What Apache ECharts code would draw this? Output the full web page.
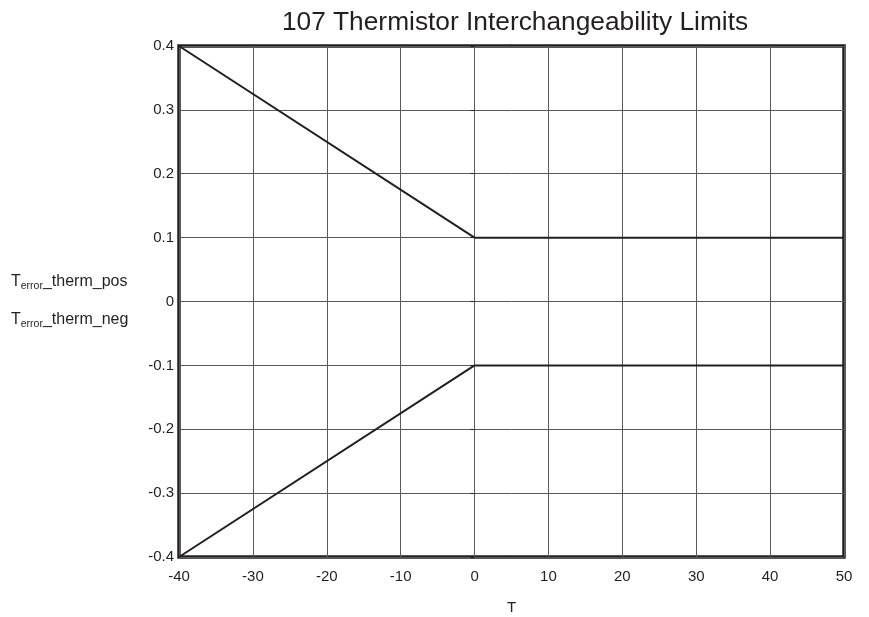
<!DOCTYPE html>
<html>
<head>
<meta charset="utf-8">
<script src="https://cdn.jsdelivr.net/npm/echarts@6/dist/echarts.min.js"></script>
<style>
  html, body { margin: 0; padding: 0; background: #fff; }
  #main { width: 869px; height: 617px; }
</style>
</head>
<body>
<div id="main"></div>
<script>
// data
var tempC = [-40, 0, 50]
var errPos = [0.4, 0.1, 0.1]
var errNeg = [-0.4, -0.1, -0.1]

var chart = echarts.init(document.getElementById('main'))
var font = 'Liberation Sans, Arial, sans-serif'

function pairs (xs, ys) {
  return xs.map(function (x, i) { return [x, ys[i]] })
}

var rich = {
  a: { fontFamily: font, fontSize: 16, fill: '#231f20' },
  b: { fontFamily: font, fontSize: 10.5, fill: '#231f20', padding: [9, 0, 0, 0] }
}

var option = {
  animation: false,
  title: {
    text: '107 Thermistor Interchangeability Limits',
    left: 510,
    top: 5,
    textAlign: 'center',
    textStyle: { fontFamily: font, fontSize: 26.3, fontWeight: 'normal', color: '#231f20' }
  },
  grid: {
    left: 179, right: 25, top: 46, bottom: 60,
    outerBoundsMode: 'none',
    show: true,
    borderWidth: 3.5,
    borderColor: '#231f20'
  },
  xAxis: {
    type: 'value',
    min: -40,
    max: 50,
    interval: 10,
    name: 'T',
    nameLocation: 'middle',
    nameGap: 43,
    nameTextStyle: { fontFamily: font, fontSize: 15, color: '#231f20' },
    axisLine: { show: false },
    axisTick: { show: false },
    axisLabel: { fontFamily: font, fontSize: 15, color: '#231f20', margin: 12 },
    splitLine: { lineStyle: { color: '#58595b', width: 1 } }
  },
  yAxis: {
    type: 'value',
    min: -0.4,
    max: 0.4,
    interval: 0.1,
    axisLine: { show: false },
    axisTick: { show: true, length: 4, lineStyle: { color: '#231f20' } },
    axisLabel: {
      fontFamily: font, fontSize: 15, color: '#231f20', margin: 5,
      formatter: function (v) { return String(Math.round(v * 10) / 10) }
    },
    splitLine: { lineStyle: { color: '#58595b', width: 1 } }
  },
  graphic: [
    {
      type: 'text', left: 11, top: 274,
      style: { text: '{a|T}{b|error}{a|_therm_pos}', rich: rich }
    },
    {
      type: 'text', left: 11, top: 312,
      style: { text: '{a|T}{b|error}{a|_therm_neg}', rich: rich }
    }
  ],
  series: [
    {
      name: 'T_error_therm_pos',
      type: 'line',
      data: pairs(tempC, errPos),
      showSymbol: false,
      lineStyle: { color: '#231f20', width: 2 }
    },
    {
      name: 'T_error_therm_neg',
      type: 'line',
      data: pairs(tempC, errNeg),
      showSymbol: false,
      lineStyle: { color: '#231f20', width: 2 }
    }
  ]
}
chart.setOption(option)
</script>
</body>
</html>
